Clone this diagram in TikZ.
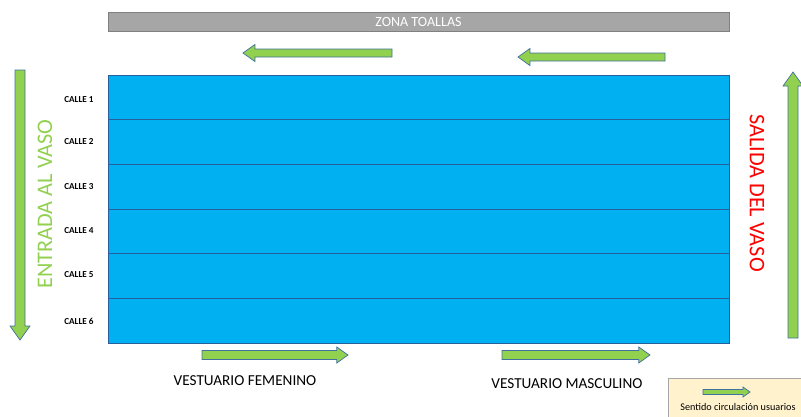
\documentclass[tikz,border=0pt]{standalone}
\usepackage{fontspec}
\setmainfont{Carlito}
\usetikzlibrary{positioning}

\definecolor{piscina}{HTML}{00B0F0}
\definecolor{corchera}{HTML}{2A5F9E}
\definecolor{verde}{HTML}{92D050}
\definecolor{borde}{HTML}{41719C}
\definecolor{gris}{HTML}{A6A6A6}
\definecolor{grisborde}{HTML}{808080}
\definecolor{crema}{HTML}{FFF2CC}

\tikzset{
  flechaverde/.style={fill=verde, draw=borde, line width=0.6pt},
  calle/.style={font=\fontsize{7.8}{9}\selectfont\bfseries},
  vestuario/.style={font=\fontsize{13}{15}\selectfont},
}

% arrow: tail, length, angle, shaft half width, head half width
\newcommand{\flecha}[5]{%
  \begin{scope}[shift={#1}, rotate=#3]
    \filldraw[flechaverde] (0,-#4) -- ({#2-1.4*#5},-#4) -- ({#2-1.4*#5},-#5) -- (#2,0)
      -- ({#2-1.4*#5},#5) -- ({#2-1.4*#5},#4) -- (0,#4) -- cycle;
  \end{scope}}

\begin{document}
\begin{tikzpicture}[x=0.03cm, y=-0.03cm]
  \useasboundingbox (0,0) rectangle (801,417);

  % zona toallas
  \filldraw[fill=gris, draw=grisborde] (108,12) rectangle (729,31);
  \node[text=white, font=\fontsize{12}{14}\selectfont] (toallas) at (418.5,21.5) {ZONA TOALLAS};

  % pool and lanes
  \coordinate (nw) at (108,75);
  \coordinate (se) at (729,343);
  \filldraw[fill=piscina, draw=corchera, line width=0.8pt] (nw) rectangle (se);
  \foreach \y in {119.7,164.3,209,253.7,298.3}
    \draw[corchera, line width=0.8pt] (108,\y) -- (729,\y);

  % lane labels
  \foreach \n/\y in {1/100,2/142,3/187,4/231,5/275,6/321}
    \node[calle] (calle\n) at (79,\y) {CALLE \n};

  % entrada / salida
  \node[rotate=90, text=verde, font=\fontsize{19}{21}\selectfont] (entrada) at (45,204) {ENTRADA AL VASO};
  \node[rotate=-90, text=red, font=\fontsize{19}{21}\selectfont] (salida) at (757,193) {SALIDA DEL VASO};

  % circulation arrows
  \flecha{(392,53)}{149}{180}{4}{8.5}
  \flecha{(665,57)}{147}{180}{4}{8.5}
  \flecha{(20,70)}{270}{-90}{5}{10}
  \flecha{(793,338)}{266}{90}{5}{10}
  \flecha{(202,355)}{146}{0}{4.5}{8}
  \flecha{(502,355)}{148}{0}{4.5}{8}

  % vestuarios
  \node[vestuario] (femenino) at (245,381) {VESTUARIO FEMENINO};
  \node[vestuario] (masculino) at (567,384) {VESTUARIO MASCULINO};

  % legend
  \filldraw[fill=crema, draw=gris] (668,378) rectangle (803,419);
  \flecha{(703,392)}{47}{0}{2.5}{5}
  \node[font=\fontsize{8.7}{10}\selectfont] (leyenda) at (738,407) {Sentido circulación usuarios};
\end{tikzpicture}
\end{document}
